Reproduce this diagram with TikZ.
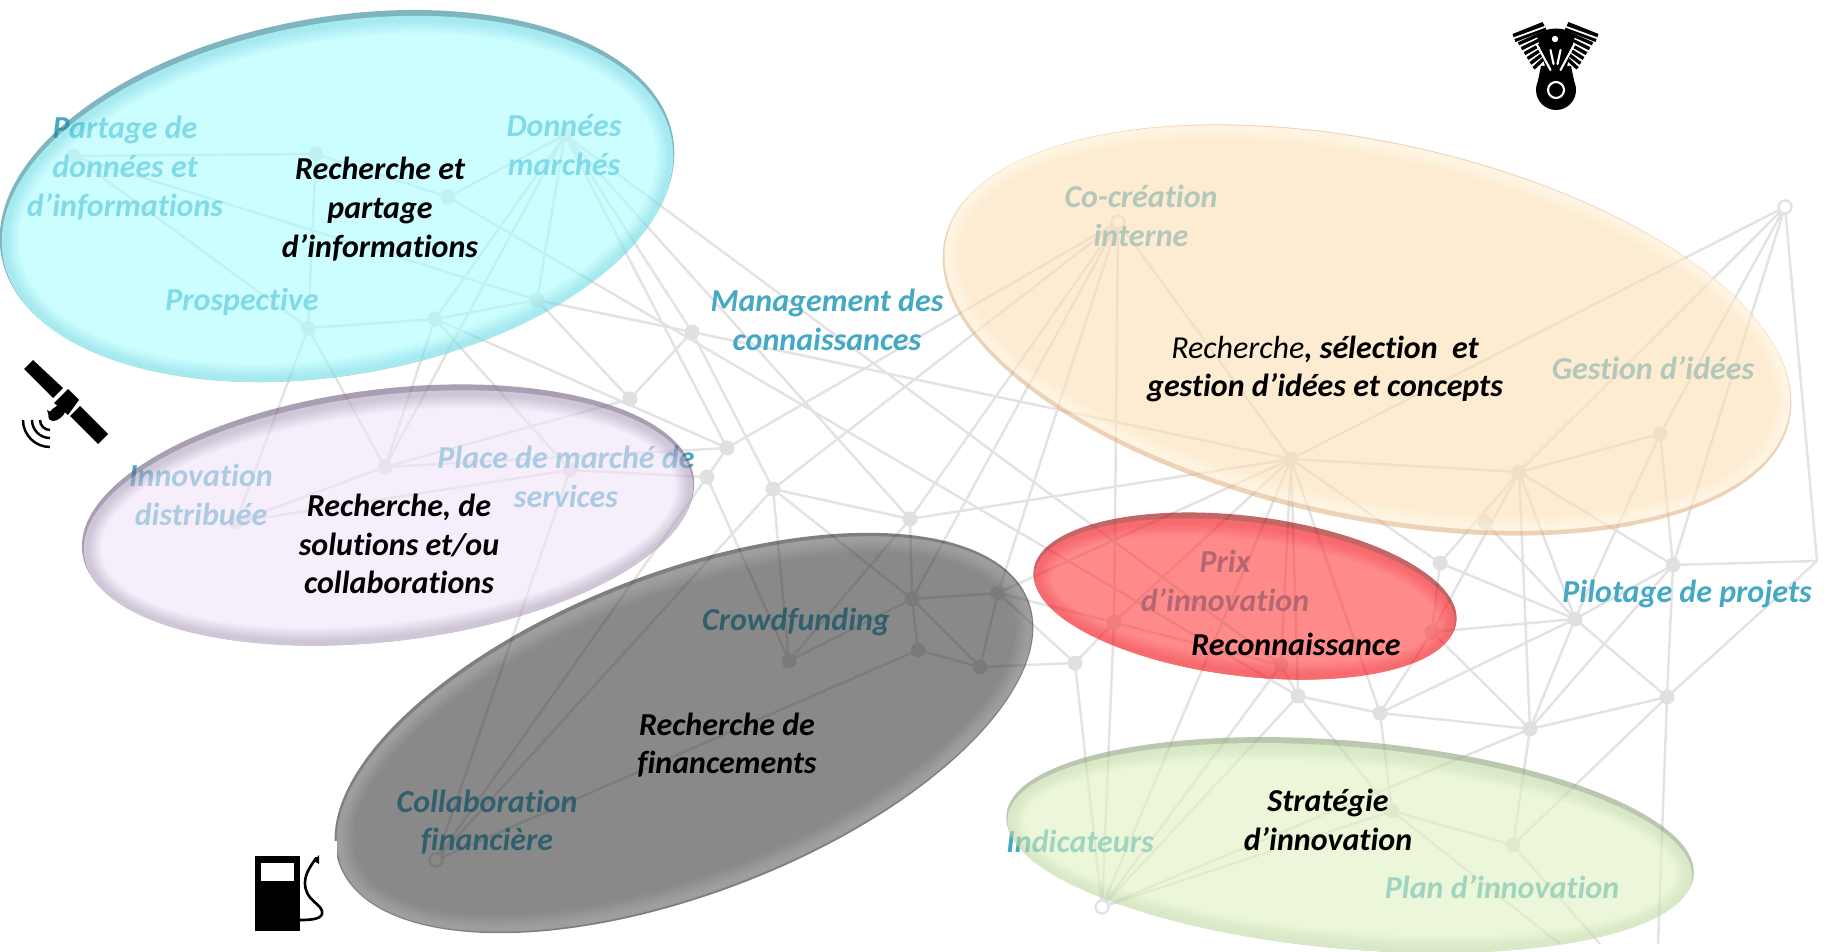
\documentclass[tikz,border=0pt]{standalone}
\usepackage{fontspec}
\setmainfont[Ligatures=NoCommon]{Carlito}
\usepackage{xcolor}
\definecolor{tealtext}{HTML}{45A9C4}
% blob colours: body, lower edge, top rim (seen through the opacity)
\definecolor{cyanbody}{RGB}{170,252,255}
\definecolor{cyanedge}{RGB}{107,220,230}
\definecolor{cyanrim}{RGB}{42,133,148}
\definecolor{lilacbody}{RGB}{240,227,248}
\definecolor{lilacedge}{RGB}{175,160,190}
\definecolor{lilacrim}{RGB}{110,95,128}
\definecolor{darkbody}{RGB}{30,30,30}
\definecolor{darkedge}{RGB}{70,70,70}
\definecolor{darkrim}{RGB}{10,10,10}
\definecolor{orangebody}{RGB}{252,222,180}
\definecolor{orangeedge}{RGB}{255,238,205}
\definecolor{orangerim}{RGB}{225,180,135}
\definecolor{redbody}{RGB}{255,60,60}
\definecolor{rededge}{RGB}{243,7,13}
\definecolor{redrim}{RGB}{158,0,0}
\definecolor{greenbody}{RGB}{222,242,190}
\definecolor{greenedge}{RGB}{192,217,160}
\definecolor{greenrim}{RGB}{143,162,120}
\tikzset{
  netline/.style={black,opacity=.11,line width=.7pt},
  netdot/.style={black,opacity=.12},
  labelteal/.style={align=center,font=\fontsize{9.1}{11}\selectfont\bfseries\itshape,text=tealtext,inner sep=0pt},
  labelblack/.style={align=center,font=\fontsize{9.1}{11}\selectfont\bfseries\itshape,text=black,inner sep=0pt},
  icon/.style={black,line cap=round,line join=round}
}
% \blob{x}{y}{a}{b}{angle}{colour}{opacity}{rim offset}
\newcommand{\blob}[8]{
  \begin{scope}[shift={(#1,#2)},rotate=#5,transparency group,opacity=#7]
    \fill[#6rim] (0,0) ellipse ({#3} and {#4});
    \fill[#6edge] (0,#8) ellipse ({#3-1.5} and {#4-3});
    \foreach \s in {0,10,...,100}
      \fill[#6body!\s!#6edge] (0,#8) ellipse ({#3-5-.14*\s} and {#4-7-.14*\s});
  \end{scope}
}
\begin{document}
\begin{tikzpicture}[x=0.01cm,y=-0.01cm]
\useasboundingbox (0,0) rectangle (1831,952);
\fill[white] (0,0) rectangle (1831,952);

% network
\foreach \nm/\px/\py in {v1/565/135,p1/73/156,p2/316/154,p3/448/197,p4/537/300,p5/435/319,p6/308/328,
  q1/385/467,q2/570/470,q3/236/522,w1/436/860,
  n1/692/332,n2/630/399,n3/727/448,n4/707/477,n5/773/489,n6/910/519,n7/912/599,n8/998/593,
  n9/789/661,n10/918/650,n11/980/667,n12/1075/663,
  r1/1114/622,r2/1281/665,r3/1298/696,r4/1380/713,r5/1530/729,r6/1667/697,r7/1575/619,r8/1673/565,
  r9/1440/563,r10/1432/632,r11/1817/561,r12/1485/522,
  s1/1291/459,s2/1519/472,t1/1513/845,t2/1102/907,t3/1392/811,
  u1/1118/222,u2/1785/207,u3/1660/434,
  b1/1658/944,b2/1600/944,b3/1560/944}
  \coordinate (\nm) at (\px,\py);

\draw[netline] \foreach \a/\b in {
  p1/p2,p2/p3,p3/v1,p1/p6,p1/p4,p2/p6,p6/p5,p5/p4,p6/q1,p6/q3,p5/q1,p5/v1,v1/q1,v1/p4,
  v1/n1,v1/n3,v1/n6,v1/r2,p3/r3,p4/n1,p4/n2,n1/n2,n1/n5,n1/s1,p5/q2,p5/n3,n2/q1,
  q1/n3,q1/q3,q3/q2,q2/n4,q2/w1,n3/n4,n3/u1,n4/n9,n4/w1,n5/u1,n5/n6,n5/n7,n5/n9,n5/w1,
  n6/n7,n6/n9,n6/u1,n6/s1,n7/n8,n7/n9,n7/n10,n7/n11,n7/u1,n8/n11,n8/u1,n8/r2,n8/n12,n8/s1,
  n10/n11,n10/w1,n11/n12,n12/r1,n12/t2,u1/r1,r1/t2,t2/s1,t2/r2,t2/r3,t2/t3,t2/r5,
  u1/s1,s1/s2,s1/r1,s1/r2,s1/r3,s1/r4,s1/r9,s2/r9,s2/r7,s2/r10,s2/r5,s2/r8,s2/u3,s2/u2,
  r3/r4,r2/r3,r4/r5,r5/r6,r4/r10,r4/r7,r10/r5,r10/r7,r10/r9,r9/r7,r12/r7,r7/r8,r7/r6,r7/r5,r7/u3,
  r8/r11,r11/r6,r11/u2,r8/u2,r8/u3,r8/r6,r8/r5,u3/u2,s1/u2,r3/t3,r4/t3,r5/t1,t1/t3,r6/t1,
  t3/b3,r6/b1,t1/b2}
  {(\a) -- (\b)};
\fill[white] \foreach \d in {p1,p2,p3,p4,p5,p6,v1,q1,q2,q3,n1,n2,n3,n4,n5,n6,n7,n8,n9,n10,n11,n12,
  r1,r2,r3,r4,r5,r6,r7,r8,r9,r10,r12,s1,s2,t1,t3,u3} {(\d) circle (7.5)};
\fill[netdot] \foreach \d in {p1,p2,p3,p4,p5,p6,v1,q1,q2,q3,n1,n2,n3,n4,n5,n6,n7,n8,n9,n10,n11,n12,
  r1,r2,r3,r4,r5,r6,r7,r8,r9,r10,r12,s1,s2,t1,t3,u3} {(\d) circle (7.5)};
\foreach \d in {u1,u2,t2,w1}
  \filldraw[fill=white,draw=black!11,line width=.7pt] (\d) circle (6.5);

% labels lying under the blobs
\node[labelteal] (partage) at (125,168) {Partage de\\données et\\d’informations};
\node[labelteal] (donnees) at (564,145) {Données\\marchés};
\node[labelteal] (prospective) at (242,302) {Prospective};
\node[labelteal] (management) at (827,320) {Management des\\connaissances};
\node[labelteal] (distribuee) at (201,495) {Innovation\\distribuée};
\node[labelteal] (marche) at (566,477) {Place de marché de\\services};
\node[labelteal] (crowd) at (796,622) {Crowdfunding};
\node[labelteal] (collab) at (487,822) {Collaboration\\financière};
\node[labelteal] (cocreation) at (1141,216) {Co-création\\interne};
\node[labelteal] (gestion) at (1653,368) {Gestion d’idées};
\node[labelteal] (prix) at (1225,581) {Prix\\d’innovation};
\node[labelteal] (pilotage) at (1687,594) {Pilotage de projets};
\node[labelteal] (indicateurs) at (1080,841) {Indicateurs};
\node[labelteal] (plan) at (1502,887) {Plan d’innovation};

% blobs
\blob{337}{196}{341}{179}{10}{cyan}{.6}{3}
\blob{388}{515}{308}{126}{7}{lilac}{.6}{3}
\blob{684}{733}{369}{161}{21}{dark}{.52}{1}
\blob{1367}{330}{432}{189}{-12}{orange}{.6}{-2}
\blob{1245}{596}{213}{80}{-7}{red}{.6}{3}
\blob{1350}{845}{345}{104}{-5}{green}{.6}{3}

% main labels
\node[labelblack] (rechinfo) at (380,209) {Recherche et\\partage\\d’informations};
\node[labelblack] (rechsol) at (399,544) {Recherche, de\\solutions et/ou\\collaborations};
\node[labelblack] (rechfin) at (727,745) {Recherche de\\financements};
\node[labelblack] (reco) at (1296,644) {Reconnaissance};
\node[labelblack] (strategie) at (1328,820) {Stratégie\\d’innovation};
\node[labelblack] (rechidee) at (1325,369) {{\mdseries Recherche}, sélection~ et\\gestion d’idées et concepts};

% engine
\begin{scope}[icon]
  \fill (1556,90) circle (20);
  \fill (1541,66) -- (1571,66) -- (1576,90) -- (1536,90) -- cycle;
  \fill (1537,36) .. controls (1545,26) and (1567,26) .. (1575,36) -- (1566,70) -- (1546,70) -- cycle;
  \foreach \m in {1,-1} {
    \begin{scope}[shift={(1555.5,0)},xscale=\m]
      \foreach \i in {1,...,7}
        \draw[line width=.95pt,line cap=butt] ({-43+\i*3},{34+\i*4.9}) -- ({-13+\i*.4},{23+\i*4.9});
      \fill (-43,34) -- (-13,22) -- (-9,30) -- (-40,42) -- cycle;
      \draw[white,line width=.5pt] (-41,38) -- (-11,27);
      \draw[white,line width=.6pt] (-19,44) -- (-5,70);
      \draw[white,line width=.6pt] (-5,50) -- (-2,64);
    \end{scope}
  }
  \fill[white] (1555,39) circle (3.2);
  \draw[white,line width=.6pt] (1556,90) circle (8);
\end{scope}

% satellite
\begin{scope}[icon]
  \fill (33,360) -- (63,388) -- (53,398) -- (24,369) -- cycle;
  \fill (68,389) -- (79,400) -- (68,415) -- (54,403) -- cycle;
  \fill (80,406) -- (108,434) -- (98,444) -- (70,416) -- cycle;
  \fill[rotate around={40:(57,413)}] (57,413) ellipse (10 and 6);
  \fill (47,410) -- (50,420) -- (59,416) -- cycle;
  \foreach \r in {10,18,27}
    \draw[line width=.7pt,line cap=butt] (50,{420+\r}) arc (90:180:\r);
\end{scope}

% pump, on its white patch
\fill[white] (220,841) rectangle (337,952);
\begin{scope}[icon]
  \fill (255,856) rectangle (300,931);
  \fill[white] (261,863) rectangle (294,881);
  \draw[line width=.75pt] (300,920) .. controls (312,920) and (324,919) .. (322,911)
    .. controls (320,903) and (305,900) .. (305,883) .. controls (305,873) and (311,866) .. (316,858);
  \fill (314,861) -- (319,855) -- (319,864) -- cycle;
\end{scope}
\end{tikzpicture}
\end{document}
